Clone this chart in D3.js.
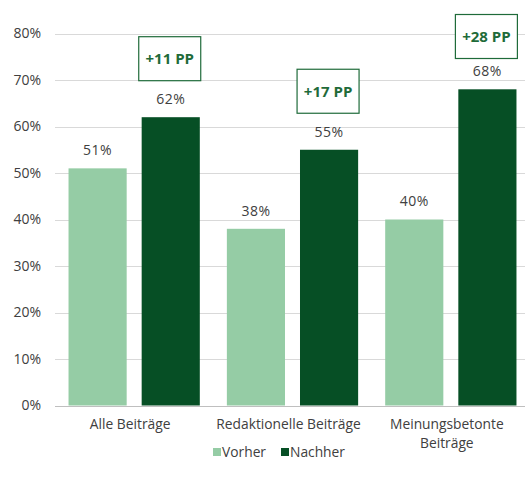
<!DOCTYPE html>
<html>
<head>
<meta charset="utf-8">
<script src="https://cdn.jsdelivr.net/npm/d3@7"></script>
<style>
  body { margin: 0; background: #fff; }
  text { font-family: "Open Sans", sans-serif; }
</style>
</head>
<body>
<div id="chart"></div>
<script>
const categories = ["Alle Beiträge", "Redaktionelle Beiträge", "Meinungsbetonte Beiträge"];
const series = ["Vorher", "Nachher"];
const vorher = [51, 38, 40];
const nachher = [62, 55, 68];
const deltas = ["+11 PP", "+17 PP", "+28 PP"];
const yTicks = [0, 10, 20, 30, 40, 50, 60, 70, 80];

const width = 525, height = 486;
const colors = {Vorher: "#95cca5", Nachher: "#064f25"};

const svg = d3.select("#chart").append("svg")
  .attr("width", width)
  .attr("height", height);

const y = d3.scaleLinear().domain([0, 80]).range([405.5, 33.5]);
const x0 = d3.scaleBand().domain(categories).range([55, 530]).padding(0);
const x1 = d3.scaleBand().domain(series).range([0, x0.bandwidth()])
  .paddingInner(0.205).paddingOuter(0.185);

// gridlines
svg.append("g")
  .selectAll("line")
  .data(yTicks.slice(1))
  .join("line")
  .attr("x1", 55).attr("x2", 525)
  .attr("y1", d => Math.round(y(d)) + 0.5)
  .attr("y2", d => Math.round(y(d)) + 0.5)
  .attr("stroke", "#d9d9d9");

// y labels
svg.append("g")
  .attr("font-size", 14)
  .attr("fill", "#404040")
  .attr("text-anchor", "end")
  .selectAll("text")
  .data(yTicks)
  .join("text")
  .attr("x", 41)
  .attr("y", d => y(d))
  .attr("dy", "0.35em")
  .text(d => d + "%");

const rows = categories.map((c, i) => ({cat: c, Vorher: vorher[i], Nachher: nachher[i], delta: deltas[i]}));

const groups = svg.append("g")
  .selectAll("g")
  .data(rows)
  .join("g")
  .attr("transform", d => `translate(${x0(d.cat)},0)`);

groups.selectAll("rect")
  .data(d => series.map(s => ({key: s, value: d[s]})))
  .join("rect")
  .attr("x", d => x1(d.key))
  .attr("width", x1.bandwidth())
  .attr("y", d => y(d.value))
  .attr("height", d => y(0) - y(d.value))
  .attr("fill", d => colors[d.key]);

groups.selectAll("text.val")
  .data(d => series.map(s => ({key: s, value: d[s]})))
  .join("text")
  .attr("class", "val")
  .attr("x", d => x1(d.key) + x1.bandwidth() / 2)
  .attr("y", d => y(d.value) - 18)
  .attr("dy", "0.35em")
  .attr("text-anchor", "middle")
  .attr("font-size", 14)
  .attr("letter-spacing", 0.5)
  .attr("fill", "#404040")
  .text(d => d.value + "%");

// annotation boxes
const boxW = 62, boxH = 44;
const ann = groups.append("g")
  .attr("transform", d => {
    const cx = x1("Nachher") + x1.bandwidth() / 2 - 1.5;
    const top = Math.max(14, y(d.Nachher) - 59 - boxH / 2);
    return `translate(${cx},${top})`;
  });
ann.append("rect")
  .attr("x", -boxW / 2 + 0.5).attr("y", 0.5)
  .attr("width", boxW).attr("height", boxH)
  .attr("fill", "#fff")
  .attr("stroke", "#1f6b3a")
  .attr("stroke-width", 1.2);
ann.append("text")
  .attr("x", 0.5).attr("y", boxH / 2 + 0.5)
  .attr("dy", "0.35em")
  .attr("text-anchor", "middle")
  .attr("font-size", 15)
  .attr("font-weight", "bold")
  .attr("fill", "#1f6b3a")
  .text(d => d.delta);

// x axis line
svg.append("line")
  .attr("x1", 55).attr("x2", 525)
  .attr("y1", 406.5).attr("y2", 406.5)
  .attr("stroke", "#bfbfbf");

// x labels, one text per line
const labelLines = {
  "Alle Beiträge": ["Alle Beiträge"],
  "Redaktionelle Beiträge": ["Redaktionelle Beiträge"],
  "Meinungsbetonte Beiträge": ["Meinungsbetonte", "Beiträge"]
};
const lineData = [];
categories.forEach(c => labelLines[c].forEach((l, i) => lineData.push({cat: c, line: l, i: i})));
svg.append("g")
  .attr("font-size", 13.8)
  .attr("fill", "#404040")
  .attr("text-anchor", "middle")
  .selectAll("text")
  .data(lineData)
  .join("text")
  .attr("x", d => x0(d.cat) + x0.bandwidth() / 2 - 4)
  .attr("y", d => 424.5 + d.i * 19)
  .attr("dy", "0.35em")
  .text(d => d.line);

// legend
const legend = svg.append("g").attr("transform", "translate(213,452)");
const legendX = [0, 68];
series.forEach((s, i) => {
  const g = legend.append("g").attr("transform", `translate(${legendX[i]},0)`);
  g.append("rect").attr("x", 0).attr("y", -4).attr("width", 8).attr("height", 8).attr("fill", colors[s]);
  g.append("text").attr("x", 9).attr("y", 0).attr("dy", "0.35em")
    .attr("font-size", 13.8).attr("fill", "#404040").text(s);
});
</script>
</body>
</html>
